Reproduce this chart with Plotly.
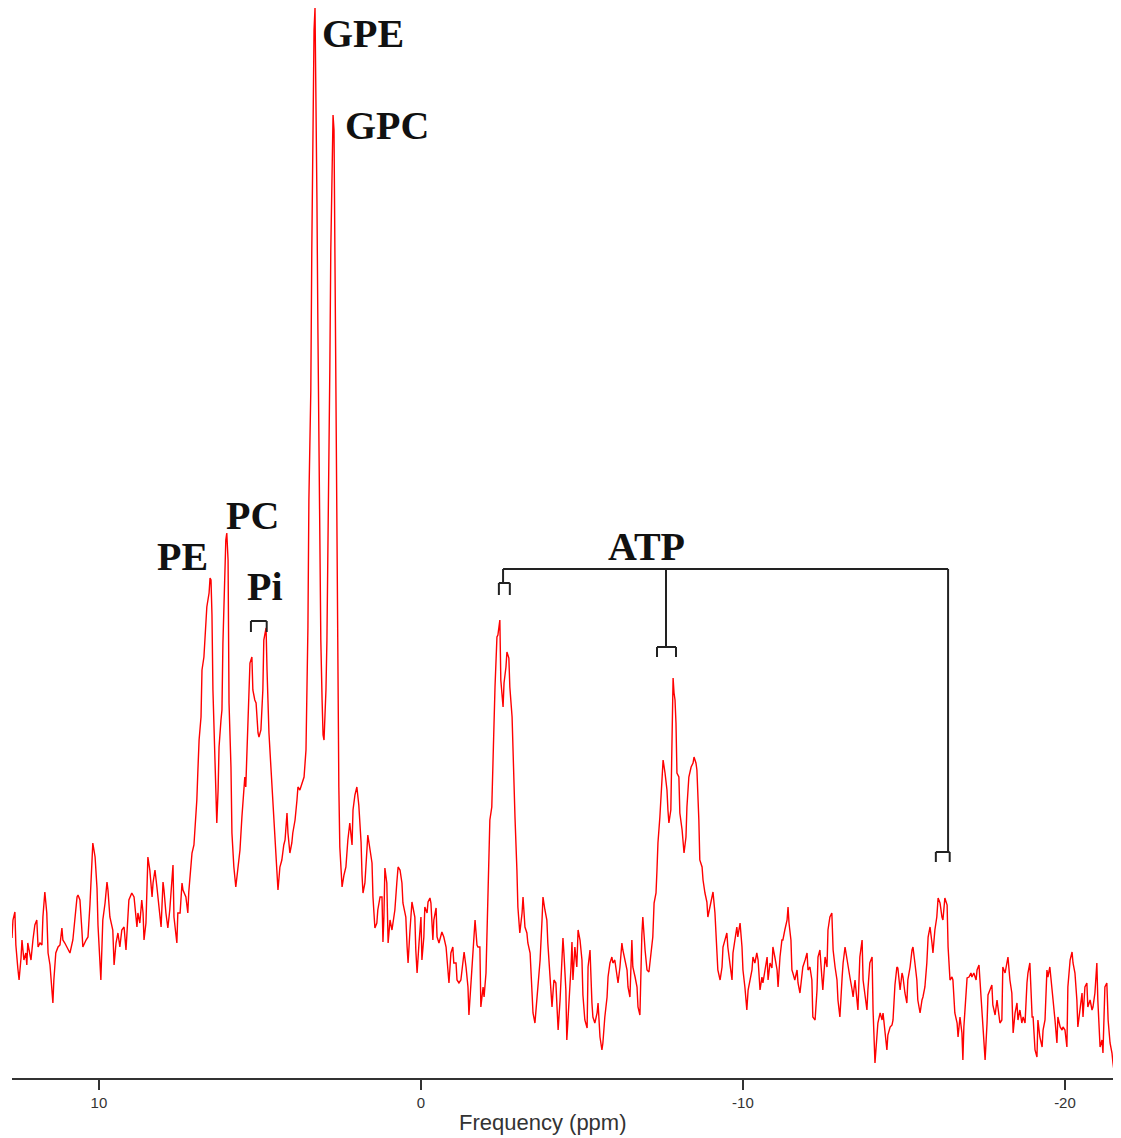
import plotly.graph_objects as go

# Chemical shift (ppm) and signal intensity (arbitrary units)
ppm = [12.70, 12.67, 12.61, 12.58, 12.52, 12.48, 12.42, 12.39, 12.33, 12.27, 12.24, 12.21, 12.14, 12.11, 12.05, 11.99, 11.93, 11.89, 11.83, 11.77,
       11.74, 11.68, 11.62, 11.58, 11.52, 11.46, 11.43, 11.40, 11.34, 11.27, 11.21, 11.15, 11.12, 11.06, 10.96, 10.90, 10.81, 10.75, 10.68, 10.65,
       10.59, 10.53, 10.50, 10.40, 10.34, 10.28, 10.22, 10.19, 10.12, 10.06, 10.03, 9.97, 9.94, 9.88, 9.81, 9.75, 9.72, 9.66, 9.57, 9.53,
       9.47, 9.41, 9.35, 9.29, 9.22, 9.16, 9.10, 9.07, 8.98, 8.91, 8.82, 8.79, 8.73, 8.67, 8.63, 8.60, 8.54, 8.51, 8.48, 8.42,
       8.35, 8.32, 8.26, 8.20, 8.14, 8.07, 8.01, 7.98, 7.92, 7.86, 7.80, 7.73, 7.70, 7.67, 7.58, 7.55, 7.48, 7.42, 7.39, 7.30,
       7.24, 7.21, 7.14, 7.11, 7.05, 6.99, 6.96, 6.93, 6.89, 6.83, 6.80, 6.74, 6.68, 6.65, 6.58, 6.55, 6.52, 6.49, 6.46, 6.40,
       6.37, 6.34, 6.30, 6.27, 6.21, 6.18, 6.15, 6.09, 6.06, 6.03, 5.99, 5.96, 5.90, 5.87, 5.81, 5.75, 5.68, 5.62, 5.56, 5.53,
       5.47, 5.44, 5.37, 5.31, 5.25, 5.22, 5.16, 5.12, 5.06, 5.03, 4.97, 4.91, 4.88, 4.81, 4.78, 4.72, 4.66, 4.60, 4.53, 4.47,
       4.44, 4.38, 4.32, 4.26, 4.22, 4.16, 4.13, 4.07, 4.01, 3.98, 3.91, 3.85, 3.82, 3.76, 3.70, 3.63, 3.57, 3.54, 3.51, 3.48,
       3.42, 3.39, 3.35, 3.32, 3.29, 3.26, 3.23, 3.20, 3.17, 3.14, 3.11, 3.07, 3.04, 3.01, 2.98, 2.95, 2.92, 2.89, 2.86, 2.83,
       2.80, 2.76, 2.73, 2.70, 2.67, 2.64, 2.61, 2.58, 2.55, 2.52, 2.45, 2.39, 2.33, 2.27, 2.21, 2.14, 2.11, 2.05, 1.99, 1.93,
       1.86, 1.83, 1.80, 1.74, 1.68, 1.65, 1.58, 1.52, 1.49, 1.43, 1.37, 1.34, 1.27, 1.21, 1.18, 1.15, 1.12, 1.06, 1.02, 0.96,
       0.90, 0.87, 0.81, 0.75, 0.71, 0.65, 0.59, 0.56, 0.47, 0.43, 0.40, 0.34, 0.28, 0.25, 0.19, 0.16, 0.12, 0.06, 0.00, -0.03,
       -0.09, -0.12, -0.19, -0.22, -0.28, -0.31, -0.37, -0.40, -0.47, -0.50, -0.56, -0.65, -0.71, -0.78, -0.81, -0.87, -0.93, -0.99, -1.02, -1.09,
       -1.12, -1.18, -1.24, -1.30, -1.34, -1.40, -1.46, -1.49, -1.55, -1.61, -1.65, -1.68, -1.74, -1.77, -1.83, -1.86, -1.93, -1.96, -2.02, -2.05,
       -2.11, -2.14, -2.20, -2.24, -2.30, -2.36, -2.39, -2.45, -2.48, -2.55, -2.58, -2.64, -2.67, -2.73, -2.76, -2.83, -2.86, -2.92, -2.98, -3.01,
       -3.07, -3.14, -3.17, -3.23, -3.29, -3.32, -3.39, -3.45, -3.48, -3.54, -3.60, -3.63, -3.70, -3.76, -3.79, -3.85, -3.91, -3.94, -4.01, -4.07,
       -4.10, -4.13, -4.19, -4.22, -4.26, -4.32, -4.38, -4.41, -4.44, -4.50, -4.53, -4.60, -4.66, -4.69, -4.72, -4.78, -4.84, -4.88, -4.94, -5.00,
       -5.03, -5.09, -5.16, -5.19, -5.25, -5.31, -5.34, -5.40, -5.47, -5.50, -5.56, -5.62, -5.65, -5.71, -5.78, -5.81, -5.87, -5.93, -5.96, -6.02,
       -6.09, -6.12, -6.18, -6.24, -6.27, -6.34, -6.40, -6.43, -6.49, -6.55, -6.58, -6.65, -6.71, -6.74, -6.80, -6.86, -6.89, -6.96, -7.02, -7.08,
       -7.11, -7.17, -7.20, -7.24, -7.30, -7.33, -7.36, -7.42, -7.48, -7.52, -7.58, -7.64, -7.67, -7.70, -7.76, -7.80, -7.83, -7.86, -7.89, -7.92,
       -7.95, -8.01, -8.04, -8.11, -8.14, -8.17, -8.23, -8.26, -8.32, -8.39, -8.45, -8.48, -8.54, -8.57, -8.63, -8.66, -8.73, -8.76, -8.82, -8.88,
       -8.91, -8.98, -9.04, -9.07, -9.13, -9.19, -9.22, -9.29, -9.35, -9.38, -9.44, -9.50, -9.53, -9.60, -9.66, -9.69, -9.75, -9.81, -9.84, -9.91,
       -9.97, -10.00, -10.06, -10.12, -10.16, -10.22, -10.28, -10.31, -10.37, -10.43, -10.47, -10.53, -10.59, -10.62, -10.68, -10.75, -10.78, -10.84, -10.90, -10.93,
       -10.99, -11.06, -11.09, -11.15, -11.21, -11.24, -11.30, -11.37, -11.40, -11.43, -11.49, -11.52, -11.55, -11.61, -11.68, -11.71, -11.77, -11.83, -11.86, -11.93,
       -11.99, -12.02, -12.08, -12.14, -12.17, -12.24, -12.30, -12.33, -12.39, -12.45, -12.48, -12.55, -12.61, -12.64, -12.70, -12.76, -12.80, -12.86, -12.92, -12.95,
       -13.01, -13.08, -13.11, -13.17, -13.23, -13.26, -13.32, -13.39, -13.42, -13.48, -13.54, -13.57, -13.63, -13.70, -13.73, -13.79, -13.85, -13.88, -13.94, -14.01,
       -14.04, -14.10, -14.16, -14.19, -14.26, -14.32, -14.35, -14.41, -14.47, -14.50, -14.57, -14.63, -14.66, -14.72, -14.78, -14.81, -14.88, -14.94, -14.97, -15.03,
       -15.09, -15.12, -15.19, -15.25, -15.28, -15.34, -15.40, -15.43, -15.50, -15.56, -15.59, -15.65, -15.71, -15.75, -15.81, -15.87, -15.90, -15.96, -16.02, -16.06,
       -16.12, -16.18, -16.21, -16.27, -16.34, -16.37, -16.43, -16.49, -16.52, -16.58, -16.65, -16.68, -16.74, -16.80, -16.83, -16.86, -16.93, -16.96, -17.02, -17.08,
       -17.11, -17.17, -17.24, -17.27, -17.33, -17.36, -17.42, -17.45, -17.52, -17.58, -17.61, -17.67, -17.73, -17.76, -17.83, -17.89, -17.92, -17.98, -18.04, -18.07,
       -18.14, -18.20, -18.23, -18.29, -18.35, -18.39, -18.45, -18.51, -18.54, -18.60, -18.66, -18.70, -18.76, -18.82, -18.85, -18.91, -18.98, -19.01, -19.07, -19.13,
       -19.16, -19.22, -19.29, -19.32, -19.38, -19.44, -19.47, -19.53, -19.60, -19.63, -19.69, -19.75, -19.78, -19.85, -19.91, -19.94, -20.00, -20.06, -20.09, -20.16,
       -20.22, -20.25, -20.31, -20.37, -20.40, -20.47, -20.53, -20.56, -20.62, -20.68, -20.71, -20.78, -20.84, -20.87, -20.93, -20.99, -21.02, -21.09, -21.15, -21.18,
       -21.24, -21.30, -21.34, -21.40, -21.46, -21.49, -21.55, -21.61, -21.65]

intensity = [140, 158, 166, 133, 110, 98, 120, 138, 118, 125, 113, 135, 123, 118, 138, 153, 158, 131, 135, 133,
             161, 186, 165, 125, 113, 91, 75, 98, 125, 131, 133, 150, 138, 135, 128, 125, 138, 158, 181, 183,
             178, 148, 131, 138, 141, 173, 216, 235, 221, 190, 153, 118, 98, 158, 175, 196, 188, 161, 148, 113,
             135, 145, 131, 148, 151, 128, 158, 178, 185, 181, 151, 165, 155, 178, 165, 138, 155, 195, 221, 208,
             181, 195, 208, 191, 171, 151, 196, 188, 165, 150, 168, 198, 213, 161, 135, 165, 165, 195, 188, 181,
             165, 186, 215, 225, 233, 258, 278, 305, 338, 361, 408, 421, 451, 471, 485, 500, 498, 463, 388, 331,
             285, 255, 288, 331, 358, 368, 435, 518, 538, 545, 518, 375, 311, 245, 211, 191, 211, 228, 261, 278,
             301, 291, 365, 415, 421, 388, 378, 375, 345, 341, 348, 388, 438, 450, 408, 345, 311, 278, 245, 215,
             188, 211, 218, 233, 238, 265, 245, 225, 235, 245, 258, 278, 291, 288, 295, 301, 328, 378, 451, 578,
             688, 828, 998, 1048, 1070, 998, 878, 748, 658, 518, 438, 378, 343, 338, 358, 388, 438, 518, 608, 708,
             828, 928, 963, 948, 808, 658, 528, 378, 291, 231, 191, 203, 211, 238, 255, 233, 268, 283, 291, 273,
             236, 203, 185, 195, 225, 243, 228, 215, 181, 150, 155, 168, 181, 181, 136, 161, 210, 195, 135, 158,
             148, 155, 168, 195, 211, 208, 195, 175, 161, 131, 115, 148, 176, 171, 161, 128, 105, 135, 161, 118,
             141, 171, 165, 176, 180, 175, 138, 158, 170, 141, 135, 146, 141, 131, 118, 95, 125, 131, 115, 115,
             98, 95, 98, 115, 126, 111, 91, 63, 91, 121, 138, 158, 133, 131, 131, 71, 91, 81, 105, 151,
             215, 258, 271, 321, 391, 441, 443, 458, 398, 371, 395, 411, 426, 420, 391, 361, 318, 261, 208, 171,
             145, 165, 181, 151, 145, 135, 125, 81, 65, 55, 78, 91, 118, 158, 181, 168, 158, 135, 95, 71,
             85, 98, 95, 65, 48, 78, 111, 140, 125, 88, 38, 75, 111, 136, 98, 131, 111, 148, 138, 118,
             83, 58, 50, 111, 128, 75, 61, 55, 65, 75, 41, 28, 35, 61, 81, 101, 115, 121, 115, 118,
             98, 95, 111, 135, 128, 115, 108, 91, 81, 138, 111, 101, 91, 71, 63, 143, 161, 128, 108, 106,
             115, 128, 141, 175, 185, 208, 235, 261, 305, 318, 305, 288, 268, 255, 268, 375, 400, 385, 378, 355,
             305, 301, 265, 248, 231, 225, 241, 271, 301, 311, 315, 321, 315, 308, 258, 218, 211, 198, 185, 176,
             161, 171, 180, 186, 165, 125, 108, 98, 111, 131, 138, 145, 131, 111, 98, 125, 136, 151, 141, 155,
             131, 108, 91, 68, 88, 98, 108, 121, 115, 125, 118, 88, 101, 95, 108, 121, 98, 115, 110, 131,
             121, 108, 91, 121, 138, 138, 148, 158, 171, 155, 138, 108, 105, 98, 108, 95, 85, 101, 111, 118,
             125, 108, 111, 98, 61, 58, 88, 121, 128, 101, 88, 121, 111, 148, 161, 165, 128, 111, 98, 78,
             61, 101, 115, 131, 118, 111, 101, 88, 81, 98, 81, 68, 121, 138, 98, 85, 68, 88, 115, 121,
             68, 15, 41, 55, 65, 58, 65, 43, 28, 43, 51, 53, 58, 93, 111, 110, 88, 105, 101, 85,
             75, 98, 111, 128, 131, 115, 98, 78, 65, 78, 81, 91, 115, 141, 151, 135, 125, 148, 161, 180,
             175, 161, 158, 180, 173, 131, 98, 101, 98, 65, 55, 41, 61, 45, 18, 51, 81, 100, 101, 105,
             101, 105, 98, 108, 113, 98, 68, 48, 18, 55, 83, 88, 93, 73, 63, 78, 70, 55, 58, 111,
             105, 118, 121, 98, 85, 45, 65, 75, 58, 68, 55, 61, 55, 95, 105, 115, 61, 61, 28, 21,
             58, 41, 31, 48, 58, 108, 101, 111, 91, 78, 58, 35, 61, 51, 48, 51, 48, 31, 91, 118,
             126, 115, 105, 78, 51, 68, 85, 61, 91, 95, 71, 78, 68, 71, 85, 115, 78, 31, 38, 25,
             91, 95, 58, 35, 25, 15, 1, 78, 8]

tick_vals = [10, 0, -10, -20]
tick_text = ["10", "0", "-10", "-20"]
x_title = "Frequency (ppm)"

# peak labels: (text, ppm, intensity)
labels = [("GPE", 1.80, 1045), ("GPC", 1.06, 953), ("PC", 5.22, 563),
          ("PE", 7.39, 522), ("Pi", 4.84, 492), ("ATP", -6.99, 532)]

fig = go.Figure()
fig.add_trace(go.Scatter(x=ppm, y=intensity, mode="lines",
                         line=dict(color="#ff0000", width=1.4), showlegend=False,
                         hoverinfo="skip"))

bracket_color = "#222222"
def seg(x0, y0, x1, y1):
    fig.add_shape(type="line", x0=x0, y0=y0, x1=x1, y1=y1, xref="x", yref="y",
                  line=dict(color=bracket_color, width=2))

def cap(xl, xr, top, bottom):
    seg(xl, bottom, xl, top)
    seg(xl, top, xr, top)
    seg(xr, top, xr, bottom)

# Pi bracket
cap(5.28, 4.79, 457, 446)
# ATP brackets
seg(-2.55, 509, -16.37, 509)
seg(-2.55, 509, -2.55, 495)
cap(-2.42, -2.76, 495, 483)
seg(-7.61, 509, -7.61, 431)
cap(-7.33, -7.92, 431, 421)
seg(-16.37, 509, -16.37, 226)
cap(-15.99, -16.42, 226, 216)

for text, xv, yv in labels:
    fig.add_annotation(x=xv, y=yv, text="<b>%s</b>" % text, showarrow=False,
                       xref="x", yref="y",
                       font=dict(family="Liberation Serif, Times New Roman, serif",
                                 size=40, color="#111111"))

# axis title, placed like the reference (slightly left of the plot centre)
fig.add_annotation(x=0.479, y=0, xref="paper", yref="paper", yanchor="top",
                   yshift=-30, showarrow=False, text=x_title,
                   font=dict(family="Liberation Sans Narrow, Liberation Sans, Arial",
                             size=22, color="#333333"))

fig.update_layout(
    width=1113, height=1130,
    margin=dict(l=4, r=0, t=0, b=60),
    paper_bgcolor="white", plot_bgcolor="white",
    xaxis=dict(range=[12.70, -21.74], showgrid=False, zeroline=False,
               showline=True, linecolor="#333333", linewidth=2,
               ticks="outside", ticklen=10, tickwidth=2, tickcolor="#333333",
               tickvals=tick_vals, ticktext=tick_text,
               tickfont=dict(family="Liberation Sans Narrow, Liberation Sans, Arial", size=15, color="#333333")),
    yaxis=dict(range=[0, 1070], visible=False),
)

fig.write_html("out.html")
